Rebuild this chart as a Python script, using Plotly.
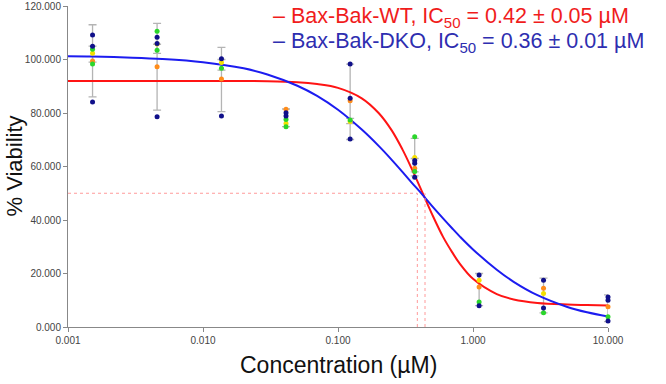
import plotly.graph_objects as go

# ---------------- data ----------------
conc = [0.00152, 0.00457, 0.0137, 0.0412, 0.123, 0.370, 1.11, 3.33, 10.0]

# replicate points (by colour), per concentration
navy_x = [0.00152, 0.00152, 0.00152, 0.00457, 0.00457, 0.00457, 0.0137, 0.0137,
          0.0412, 0.0412, 0.123, 0.123, 0.123, 0.370, 0.370, 0.370,
          1.11, 1.11, 3.33, 3.33, 10.0, 10.0, 10.0]
navy_y = [109.2, 105.0, 84.1, 108.3, 106.0, 78.6, 100.3, 78.9,
          80.1, 78.9, 98.3, 85.5, 70.3, 62.2, 61.2, 56.0,
          19.4, 7.9, 17.5, 7.1, 11.2, 10.0, 2.2]
green_x = [0.00152, 0.00152, 0.00457, 0.00457, 0.0137, 0.0412, 0.0412, 0.123,
           0.370, 0.370, 1.11, 3.33, 10.0]
green_y = [103.8, 98.3, 110.6, 103.5, 96.7, 77.6, 74.9, 77.4,
           71.1, 58.1, 9.3, 5.3, 3.8]
yellow_x = [0.00152, 0.00457, 0.0137, 0.0412, 0.123, 0.370, 1.11, 3.33]
yellow_y = [102.3, 105.8, 98.9, 76.1, 76.8, 63.4, 17.5, 12.5]
orange_x = [0.00152, 0.00457, 0.0137, 0.0412, 0.123, 0.370, 1.11, 3.33, 10.0]
orange_y = [99.4, 97.3, 92.7, 81.4, 84.6, 59.3, 15.0, 14.5, 7.6]

# error bars (centre, +, -)
err_x = [0.00152, 0.00152, 0.00457, 0.00457, 0.0137, 0.0137, 0.0412, 0.123, 0.123,
         0.370, 0.370, 1.11, 3.33, 10.0]
err_c = [99.5, 102.0, 97.3, 104.0, 92.5, 98.0, 78.2, 84.2, 77.0,
         63.5, 60.5, 14.0, 11.8, 7.0]
err_p = [13.5, 3.0, 16.2, 1.7, 12.0, 2.0, 3.3, 14.1, 1.0,
         7.0, 2.5, 6.0, 6.5, 5.0]
err_m = [13.5, 3.0, 16.2, 1.7, 12.0, 2.0, 3.3, 14.1, 1.0,
         7.0, 2.5, 6.0, 6.5, 5.0]

# fitted curves
curve_x = [0.001, 0.0015, 0.003, 0.005, 0.01, 0.02, 0.03, 0.05, 0.07, 0.1, 0.15, 0.2,
           0.25, 0.3, 0.35, 0.42, 0.5, 0.6, 0.7, 0.8, 1.0, 1.5, 2.0, 3.0, 5.0, 7.0, 10.0]
wt_y = [92.0, 92.0, 92.0, 92.0, 92.0, 92.0, 91.9, 91.5, 90.8, 89.4, 85.5, 80.0,
        73.5, 66.4, 59.4, 50.5, 41.9, 33.7, 28.0, 23.6, 18.0, 12.3, 10.3, 9.0, 8.4, 8.2, 8.0]
dko_y = [101.2, 101.1, 100.7, 100.2, 99.0, 96.7, 94.4, 90.2, 86.4, 81.2, 73.8, 67.7,
         62.5, 58.0, 54.1, 49.6, 45.1, 40.6, 36.9, 33.8, 29.0, 21.4, 16.9, 11.9, 7.5, 5.5, 3.9]

ic50_lines_x = [0.387, 0.441]
half_level = 50

legend_wt = "– Bax-Bak-WT, IC<sub>50</sub> = 0.42 ± 0.05 µM"
legend_dko = "– Bax-Bak-DKO, IC<sub>50</sub> = 0.36 ± 0.01 µM"

y_ticks = [0, 20, 40, 60, 80, 100, 120]
y_ticklabels = ["0.000", "20.000", "40.000", "60.000", "80.000", "100.000", "120.000"]
x_ticks = [0.001, 0.01, 0.1, 1, 10]
x_ticklabels = ["0.001", "0.010", "0.100", "1.000", "10.000"]

# ---------------- figure ----------------
fig = go.Figure()

RED = "#ff1414"
BLUE = "#1c1cf0"

# dotted IC50 guide lines
fig.add_shape(type="line", xref="x", yref="y", x0=0.001, x1=ic50_lines_x[0], y0=half_level, y1=half_level,
              line=dict(color="#ff9a9a", width=1, dash="dot"))
for xv in ic50_lines_x:
    fig.add_shape(type="line", xref="x", yref="y", x0=xv, x1=xv, y0=0, y1=half_level,
                  line=dict(color="#ff9a9a", width=1, dash="dot"))

# error bars
fig.add_trace(go.Scatter(
    x=err_x, y=err_c, mode="markers", marker=dict(size=0.1, color="rgba(0,0,0,0)"),
    error_y=dict(type="data", array=err_p, arrayminus=err_m, color="#b4b4b4",
                 thickness=1.3, width=4),
    showlegend=False, hoverinfo="skip", cliponaxis=False))

# curves
fig.add_trace(go.Scatter(x=curve_x, y=wt_y, mode="lines", line=dict(color=RED, width=2, shape="spline"),
                         showlegend=False, cliponaxis=False))
fig.add_trace(go.Scatter(x=curve_x, y=dko_y, mode="lines", line=dict(color=BLUE, width=2, shape="spline"),
                         showlegend=False, cliponaxis=False))

# replicate points
for xs, ys, col in [(orange_x, orange_y, "#ff8c1a"), (yellow_x, yellow_y, "#f5e000"),
                    (green_x, green_y, "#2bd62b"), (navy_x, navy_y, "#10108a")]:
    fig.add_trace(go.Scatter(x=xs, y=ys, mode="markers",
                             marker=dict(size=5, color=col, line=dict(width=0)),
                             showlegend=False, cliponaxis=False))

fig.update_layout(
    width=666, height=384,
    margin=dict(l=68, r=58, t=6, b=57),
    plot_bgcolor="white", paper_bgcolor="white",
    font=dict(family="Arial, Liberation Sans, sans-serif", color="#444"),
    xaxis=dict(type="log", range=[-3, 1], tickvals=x_ticks, ticktext=x_ticklabels,
               showgrid=False, zeroline=False, showline=True, linecolor="#888", linewidth=1,
               ticks="outside", ticklen=4, tickcolor="#888", tickfont=dict(size=10, color="#444"),
               automargin=False),
    yaxis=dict(range=[0, 120], tickvals=y_ticks, ticktext=y_ticklabels,
               showgrid=False, zeroline=False, showline=True, linecolor="#888", linewidth=1,
               ticks="outside", ticklen=4, tickcolor="#888", tickfont=dict(size=10, color="#444"),
               automargin=False),
    annotations=[
        dict(text=legend_wt, x=0.376, y=0.963, xref="paper", yref="paper", xanchor="left",
             yanchor="middle", showarrow=False, font=dict(size=21.5, color="#f01c1c")),
        dict(text=legend_dko, x=0.376, y=0.885, xref="paper", yref="paper", xanchor="left",
             yanchor="middle", showarrow=False, font=dict(size=21.5, color="#2e2eb0")),
        dict(text="% Viability", x=-0.1, y=0.5, xref="paper", yref="paper", textangle=-90,
             xanchor="center", yanchor="middle", showarrow=False,
             font=dict(size=22, color="#111")),
        dict(text="Concentration (µM)", x=0.5, y=-(365 - 327) / 321, xref="paper", yref="paper",
             showarrow=False, xanchor="center", yanchor="middle",
             font=dict(size=23, color="#111")),
    ],
)

fig.write_html("out.html", config={"displayModeBar": False},
               post_script="document.body.style.margin='0';document.body.style.overflow='hidden';")
